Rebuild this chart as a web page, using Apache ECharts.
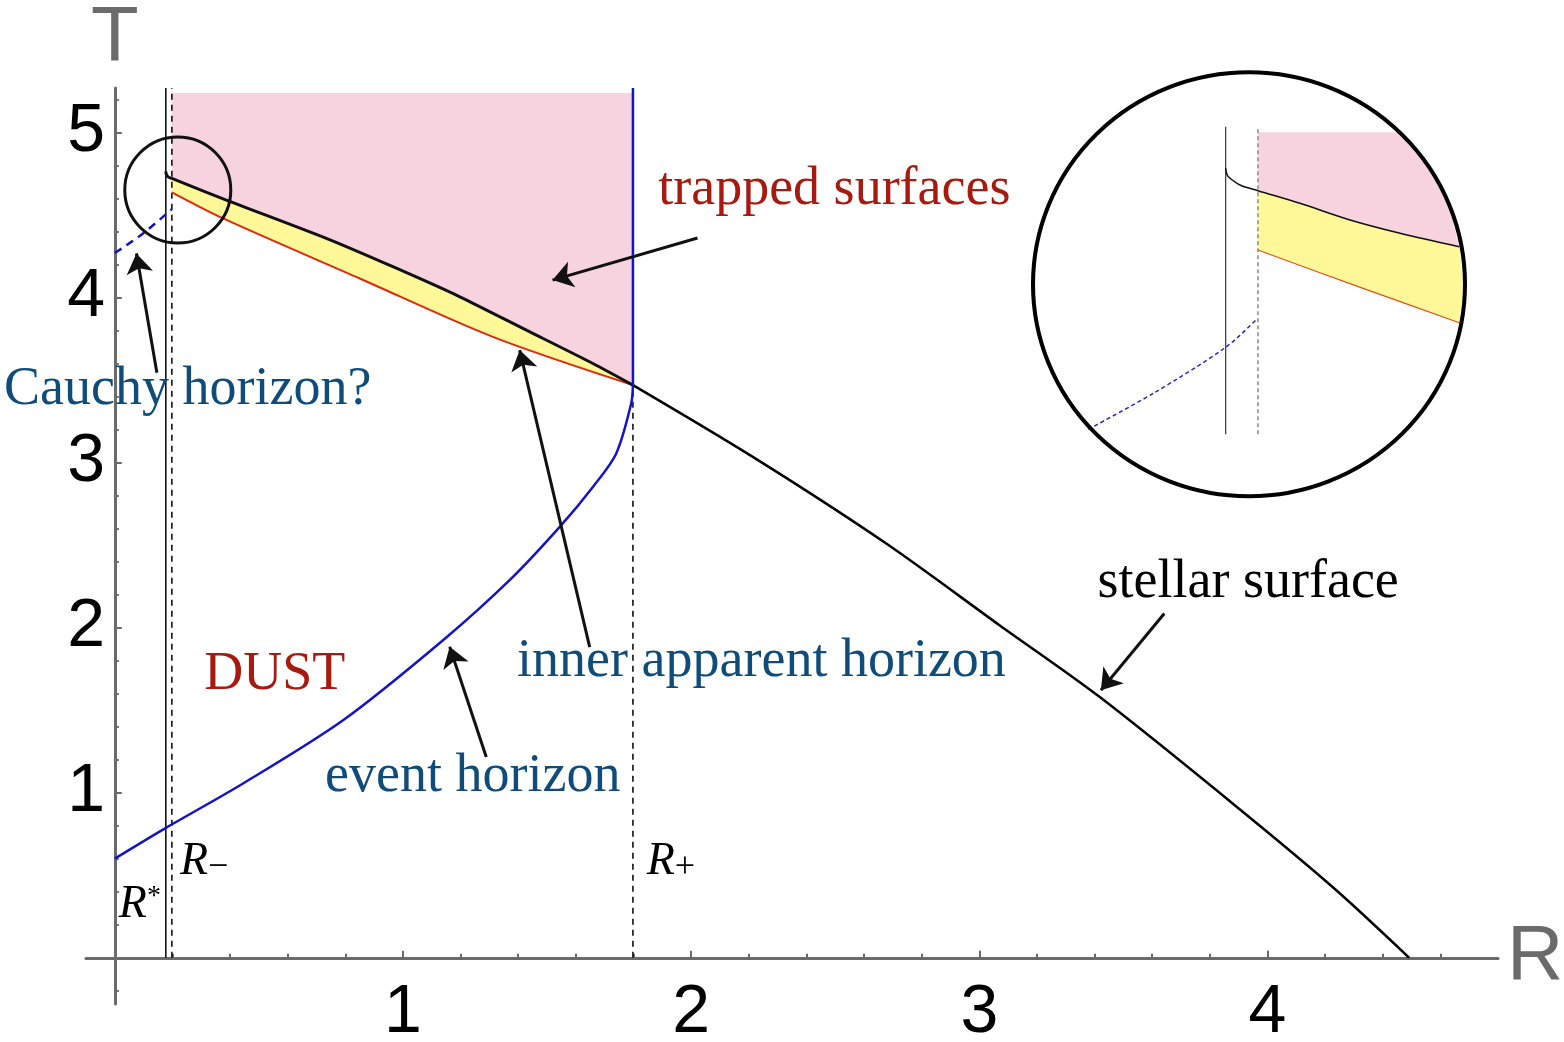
<!DOCTYPE html>
<html>
<head>
<meta charset="utf-8">
<title>Dust collapse: horizons</title>
<script src="https://cdn.jsdelivr.net/npm/echarts@6.0.0/dist/echarts.min.js"></script>
<style>
html, body { margin: 0; padding: 0; background: #fff; }
#chart { width: 1564px; height: 1042px; }
</style>
</head>
<body>
<div id="chart"></div>
<script>
// ---- axes ----
var xMajorTicks = [1, 2, 3, 4];
var yMajorTicks = [1, 2, 3, 4, 5];
var xMinorTicks = [0.2, 0.4, 0.6, 0.8, 1, 1.2, 1.4, 1.6, 1.8, 2, 2.2, 2.4, 2.6, 2.8, 3, 3.2, 3.4, 3.6, 3.8, 4, 4.2, 4.4, 4.6];
var yMinorTicks = [-0.2, 0.2, 0.4, 0.6, 0.8, 1, 1.2, 1.4, 1.6, 1.8, 2, 2.2, 2.4, 2.6, 2.8, 3, 3.2, 3.4, 3.6, 3.8, 4, 4.2, 4.4, 4.6, 4.8, 5, 5.2];

// ---- main plot (R, T) ----
var rStar = 0.177;
var rMinus = 0.198;
var rPlus = 1.798;
var tTop = 5.27;
var trappedTop = 5.24;

// outer boundary of the yellow band (black)
var apparentHorizon = [[0.177, 4.765], [0.179, 4.745], [0.186, 4.73], [0.198, 4.722], [0.387, 4.591], [0.734, 4.359],
    [0.965, 4.187], [1.197, 4.005], [1.428, 3.803], [1.659, 3.601], [1.798, 3.470]];
// inner apparent horizon (red)
var innerHorizon = [[0.198, 4.638], [0.376, 4.480], [0.850, 4.116], [1.312, 3.762], [1.798, 3.470]];
// event horizon (blue): curved part, then straight up along R+
var eventHorizon = [[0, 0.601], [0.173, 0.783], [0.445, 1.056], [0.792, 1.439], [1.139, 1.924], [1.370, 2.288],
    [1.544, 2.611], [1.659, 2.853], [1.740, 3.056], [1.792, 3.359], [1.798, 3.470], [1.798, 5.27]];
var cauchyHorizon = [[0, 4.270], [0.098, 4.389], [0.198, 4.536]];
var stellarSurface = [[1.798, 3.470], [2.214, 3.035], [2.677, 2.510], [3.070, 2.015], [3.417, 1.581],
    [3.879, 0.935], [4.226, 0.429], [4.492, 0]];

var annotationNames = ['trapped surfaces', 'Cauchy horizon?', 'DUST', 'inner apparent horizon', 'event horizon', 'stellar surface'];
var annotationAt = [[2.497, 4.652], [0.253, 3.439], [0.555, 1.712], [2.244, 1.791], [1.242, 1.094], [3.933, 2.273]];
var annotationArrows = [
    [[2.022, 4.361], [1.519, 4.106]],
    [[0.146, 3.545], [0.075, 4.268]],
    [[1.648, 1.882], [1.405, 3.682]],
    [[1.289, 1.217], [1.162, 1.884]],
    [[3.642, 2.086], [3.422, 1.621]]
];
var radiusLabels = ['{r|R}{sup|*}', '{r|R}{sub|\u2212}', '{r|R}{sub|+}'];
var radiusLabelAt = [[0.087, 0.318], [0.310, 0.579], [1.930, 0.579]];
var zoomMarkAt = [0.2185, 4.652];

// ---- inset (magnified around R*, R-) ----
var insetRStar = 0.1749;
var insetRMinus = 0.1958;
var insetLineBottom = 4.398;
var insetLineTop = 4.8218;
var insetDashTop = 4.8183;
var insetTrappedTop = 4.8141;
var insetApparent = [[0.1749, 4.7645], [0.1754, 4.758], [0.1766, 4.7529], [0.1842, 4.7415], [0.1958, 4.7336],
    [0.2230, 4.7162], [0.2555, 4.6932], [0.2879, 4.6749], [0.3263, 4.6564]];
var insetInner = [[0.1958, 4.6519], [0.2608, 4.6013], [0.3263, 4.5516]];
var insetPinkEdge = [[0.2876, 4.8141], [0.2985, 4.7897], [0.3066, 4.7667], [0.3185, 4.7208], [0.3263, 4.6564]];
var insetYellowEdge = [[0.3263, 4.6564], [0.3293, 4.605], [0.3263, 4.5516]];
var insetCauchy = [[0.0858, 4.4047], [0.1280, 4.4543], [0.1749, 4.5177], [0.1956, 4.5577]];
var insetCenter = [0.19, 4.6046];

var GRAY = '#6b6b6b';
var PINK = '#f7d2df';
var YELLOW = '#fff899';
var RED = '#dd2a12';
var BLUE = '#1414c4';
var TEXT_RED = '#a8190f';
var TEXT_BLUE = '#0f4c7a';
var CLEAR = 'rgba(0,0,0,0)';
var textColors = [TEXT_RED, TEXT_BLUE, TEXT_RED, TEXT_BLUE, TEXT_BLUE, '#000'];

function polygon(points, color, axisIndex, z) {
    return {
        type: 'custom',
        xAxisIndex: axisIndex,
        yAxisIndex: axisIndex,
        silent: true,
        z: z,
        data: [points[0]],
        renderItem: function (params, api) {
            return {
                type: 'polygon',
                shape: { points: points.map(function (p) { return api.coord(p); }) },
                style: { fill: color }
            };
        }
    };
}

function curve(points, color, width, axisIndex, dash, smooth, z) {
    return {
        type: 'line',
        xAxisIndex: axisIndex,
        yAxisIndex: axisIndex,
        data: points,
        symbol: 'none',
        silent: true,
        smooth: smooth || false,
        z: z || 3,
        lineStyle: { color: color, width: width, type: dash || 'solid', opacity: 1 }
    };
}

var apparentFromRMinus = apparentHorizon.filter(function (p) { return p[0] >= rMinus; });
var pinkMain = [[rMinus, trappedTop], [rPlus, trappedTop]].concat(apparentFromRMinus.slice().reverse());
var yellowMain = apparentFromRMinus.concat(innerHorizon.slice().reverse());
var eventCurved = eventHorizon.slice(0, -1);
var eventStraight = eventHorizon.slice(-2);

var insetApparentFromDash = insetApparent.filter(function (p) { return p[0] >= insetRMinus; });
var pinkInset = [[insetRMinus, insetTrappedTop]].concat(insetPinkEdge, insetApparentFromDash.slice().reverse());
var yellowInset = insetApparentFromDash.concat(insetYellowEdge.slice(1), insetInner.slice().reverse());

var chart = echarts.init(document.getElementById('chart'));

chart.setOption({
    animation: false,
    backgroundColor: '#fff',
    grid: [
        { left: 86, top: 88, width: 1412, height: 916, outerBoundsMode: 'none', containLabel: false },
        { left: 86, top: 88, width: 1412, height: 916, outerBoundsMode: 'none', containLabel: false },
        { left: 1033, top: 70, width: 432, height: 428, outerBoundsMode: 'none', containLabel: false }
    ],
    xAxis: [{
        gridIndex: 0, type: 'value', min: -0.1, max: 4.8,
        name: 'R', nameLocation: 'end', nameGap: 9,
        nameTextStyle: { fontSize: 78, color: GRAY, fontFamily: 'Liberation Sans', verticalAlign: 'middle', align: 'left', padding: [12, 0, 0, 0] },
        axisLine: { show: true, onZero: true, lineStyle: { color: GRAY, width: 3 } },
        axisTick: { show: true, inside: true, length: 7, customValues: xMajorTicks, lineStyle: { color: GRAY, width: 2 } },
        // labels are laid out from the grid edge, not from the zero line
        axisLabel: { show: true, customValues: xMajorTicks, margin: -25, fontSize: 68, color: '#000', fontFamily: 'Liberation Sans' },
        splitLine: { show: false }
    }, {
        gridIndex: 1, type: 'value', min: -0.1, max: 4.8,
        axisLine: { show: true, onZero: true, lineStyle: { color: GRAY, width: 0, opacity: 0 } },
        axisTick: { show: true, inside: true, length: 4, customValues: xMinorTicks, lineStyle: { color: GRAY, width: 2 } },
        axisLabel: { show: false },
        splitLine: { show: false }
    }, {
        gridIndex: 2, type: 'value', min: 0.05, max: 0.33, show: false
    }],
    yAxis: [{
        gridIndex: 0, type: 'value', min: -0.28, max: 5.27,
        name: 'T', nameLocation: 'end', nameGap: 10,
        nameTextStyle: { fontSize: 78, color: GRAY, fontFamily: 'Liberation Sans', align: 'center' },
        axisLine: { show: true, onZero: true, lineStyle: { color: GRAY, width: 3 } },
        axisTick: { show: true, inside: true, length: 7, customValues: yMajorTicks, lineStyle: { color: GRAY, width: 2 } },
        axisLabel: { show: true, customValues: yMajorTicks, margin: -19, fontSize: 68, color: '#000', fontFamily: 'Liberation Sans' },
        splitLine: { show: false }
    }, {
        gridIndex: 1, type: 'value', min: -0.28, max: 5.27,
        axisLine: { show: true, onZero: true, lineStyle: { color: GRAY, width: 0, opacity: 0 } },
        axisTick: { show: true, inside: true, length: 4, customValues: yMinorTicks, lineStyle: { color: GRAY, width: 2 } },
        axisLabel: { show: false },
        splitLine: { show: false }
    }, {
        gridIndex: 2, type: 'value', min: 4.31, max: 4.90, show: false
    }],
    series: [
        // main plot
        polygon(pinkMain, PINK, 0, 1),
        polygon(yellowMain, YELLOW, 0, 1),
        curve([[rStar, 0], [rStar, tTop]], '#000', 1.5, 0),
        curve([[rMinus, 0], [rMinus, tTop]], '#000', 1.5, 0, [6, 5]),
        curve([[rPlus, 0], [rPlus, tTop]], '#000', 1.5, 0, [6, 5]),
        curve(innerHorizon, RED, 2, 0, 'solid', 0.3),
        curve(apparentHorizon, '#111', 3, 0, 'solid', 0.25),
        curve(eventCurved, BLUE, 2.5, 0, 'solid', 0.3, 4),
        curve(eventStraight, BLUE, 2.5, 0, 'solid', false, 4),
        curve(cauchyHorizon, BLUE, 2.5, 0, [8, 6], 0.3),
        curve(stellarSurface, '#000', 2.5, 0, 'solid', 0.3),
        {
            type: 'lines',
            coordinateSystem: 'cartesian2d',
            xAxisIndex: 0, yAxisIndex: 0,
            silent: true, z: 6,
            symbol: ['none', 'arrow'],
            symbolSize: [13, 20],
            lineStyle: { color: '#111', width: 3, opacity: 1, curveness: 0 },
            data: annotationArrows.map(function (a) { return { coords: a }; })
        },
        {
            type: 'scatter',
            xAxisIndex: 0, yAxisIndex: 0,
            silent: true, z: 7,
            symbolSize: 1,
            itemStyle: { color: CLEAR, opacity: 1 },
            label: { show: true, position: 'inside', formatter: '{b}', fontFamily: 'Liberation Serif', fontSize: 54 },
            data: annotationNames.map(function (n, i) {
                return { name: n, value: annotationAt[i], label: { color: textColors[i] } };
            })
        },
        {
            type: 'scatter',
            xAxisIndex: 0, yAxisIndex: 0,
            silent: true, z: 7,
            symbolSize: 1,
            itemStyle: { color: CLEAR, opacity: 1 },
            label: {
                show: true, position: 'inside', formatter: '{b}', color: '#000',
                rich: {
                    r: { fontFamily: 'Liberation Serif', fontStyle: 'italic', fontSize: 46, color: '#000', lineHeight: 46, verticalAlign: 'middle' },
                    sup: { fontFamily: 'Liberation Serif', fontSize: 28, color: '#000', lineHeight: 28, verticalAlign: 'top' },
                    sub: { fontFamily: 'Liberation Serif', fontSize: 36, color: '#000', lineHeight: 34, verticalAlign: 'bottom' }
                }
            },
            data: radiusLabels.map(function (n, i) { return { name: n, value: radiusLabelAt[i] }; })
        },
        {
            type: 'scatter',
            xAxisIndex: 0, yAxisIndex: 0,
            silent: true, z: 8,
            symbol: 'circle',
            symbolSize: 106,
            itemStyle: { color: CLEAR, borderColor: '#111', borderWidth: 3, opacity: 1 },
            data: [zoomMarkAt]
        },
        // inset
        polygon(pinkInset, PINK, 2, 1),
        polygon(yellowInset, YELLOW, 2, 1),
        curve([[insetRStar, insetLineBottom], [insetRStar, insetLineTop]], '#333', 1.2, 2),
        curve([[insetRMinus, insetLineBottom], [insetRMinus, insetDashTop]], '#888', 1.5, 2, [4, 3]),
        curve(insetInner, '#e0501e', 1.2, 2, 'solid', 0.2),
        curve(insetApparent, '#111', 1.5, 2, 'solid', 0.3),
        curve(insetCauchy, '#2626c8', 1.5, 2, [4, 3], 0.3),
        {
            type: 'scatter',
            xAxisIndex: 2, yAxisIndex: 2,
            silent: true, z: 8,
            symbol: 'circle',
            symbolSize: [432, 424],
            itemStyle: { color: CLEAR, borderColor: '#000', borderWidth: 4, opacity: 1 },
            data: [insetCenter]
        }
    ]
});
</script>
</body>
</html>
